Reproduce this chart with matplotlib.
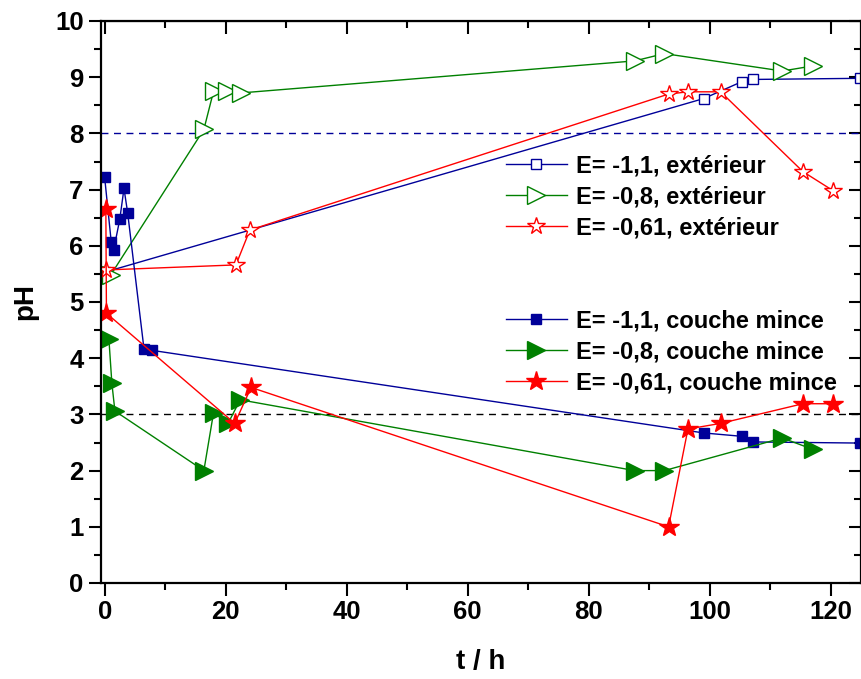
import numpy as np
import matplotlib

matplotlib.use("Agg")
from matplotlib import pyplot as plt
from matplotlib.ticker import MultipleLocator

plt.rcParams['font.family'] = ['Liberation Sans', 'DejaVu Sans']
plt.rcParams['font.weight'] = 'bold'

# exterieur (open markers)
t_ext_11 = [0, 99, 105.3, 107.1, 124.8]
ph_ext_11 = [5.53, 8.62, 8.92, 8.96, 8.98]

t_ext_08 = [1.0, 16.4, 18.0, 20.2, 22.5, 87.6, 92.5, 112, 117]
ph_ext_08 = [5.48, 8.07, 8.75, 8.75, 8.72, 9.29, 9.42, 9.11, 9.2]

t_ext_061 = [0.2, 21.7, 24.0, 93.2, 96.4, 101.8, 115.4, 120.4]
ph_ext_061 = [5.57, 5.66, 6.28, 8.7, 8.74, 8.74, 7.32, 6.98]

# couche mince (filled markers)
t_cm_11 = [0, 1.1, 1.5, 2.5, 3.2, 3.8, 6.5, 7.8, 99, 105.3, 107.1, 124.8]
ph_cm_11 = [7.22, 6.06, 5.93, 6.47, 7.02, 6.59, 4.17, 4.14, 2.67, 2.61, 2.51, 2.49]

t_cm_08 = [0.7, 1.2, 1.7, 16.4, 18.0, 20.4, 22.4, 87.6, 92.5, 112, 117]
ph_cm_08 = [4.35, 3.55, 3.06, 2.0, 3.03, 2.84, 3.26, 2.0, 2.0, 2.58, 2.38]

t_cm_061 = [0.2, 0.3, 21.5, 24.2, 93.2, 96.4, 101.8, 115.4, 120.4]
ph_cm_061 = [6.65, 4.8, 2.84, 3.48, 1.0, 2.74, 2.84, 3.19, 3.19]

ph_ref_high = 8.0
ph_ref_low = 3.0

blue = '#000099'
green = '#008000'
red = '#ff0000'

fig = plt.figure(figsize=(8.62, 6.79), dpi=100)
ax = fig.add_axes([101 / 862, 1 - 583 / 679, 760 / 862, 562 / 679])

ax.axhline(ph_ref_high, color=blue, lw=1.0, ls=(0, (5, 4)))
ax.axhline(ph_ref_low, color='black', lw=1.0, ls=(0, (5, 4)))

l1, = ax.plot(t_ext_11, ph_ext_11, '-', color=blue, lw=1, marker='s', ms=7,
              mfc='white', mec=blue, mew=1, label='E= -1,1, extérieur')
l2, = ax.plot(t_ext_08, ph_ext_08, '-', color=green, lw=1, marker='>', ms=13,
              mfc='white', mec=green, mew=1, label='E= -0,8, extérieur')
l3, = ax.plot(t_ext_061, ph_ext_061, '-', color=red, lw=1, marker='*', ms=13,
              mfc='white', mec=red, mew=1, label='E= -0,61, extérieur')

l4, = ax.plot(t_cm_11, ph_cm_11, '-', color=blue, lw=1, marker='s', ms=7,
              mfc=blue, mec=blue, label='E= -1,1, couche mince')
l5, = ax.plot(t_cm_08, ph_cm_08, '-', color=green, lw=1, marker='>', ms=13,
              mfc=green, mec=green, label='E= -0,8, couche mince')
l6, = ax.plot(t_cm_061, ph_cm_061, '-', color=red, lw=1, marker='*', ms=15,
              mfc=red, mec=red, label='E= -0,61, couche mince')

ax.set_xlim(-0.6, 125)
ax.set_ylim(0, 10)
ax.xaxis.set_major_locator(MultipleLocator(20))
ax.xaxis.set_minor_locator(MultipleLocator(10))
ax.yaxis.set_major_locator(MultipleLocator(1))
ax.yaxis.set_minor_locator(MultipleLocator(0.5))

for s in ax.spines.values():
    s.set_linewidth(1.6)
ax.tick_params(which='both', direction='out', width=1.5, labelsize=18.5,
               top=False, right=False)
ax.tick_params(which='major', length=9)
ax.tick_params(which='minor', length=5)

ax.set_xlabel('t / h', fontsize=20, fontweight='bold', labelpad=18)
ax.set_ylabel('pH', fontsize=20, fontweight='bold', labelpad=12)

# inward mirror ticks on top and right
sec_x = ax.secondary_xaxis('top')
sec_x.xaxis.set_major_locator(MultipleLocator(20))
sec_x.xaxis.set_minor_locator(MultipleLocator(10))
sec_x.tick_params(which='both', direction='in', width=1.5, labeltop=False)
sec_x.tick_params(which='major', length=9)
sec_x.tick_params(which='minor', length=5)
sec_y = ax.secondary_yaxis('right')
sec_y.yaxis.set_major_locator(MultipleLocator(1))
sec_y.yaxis.set_minor_locator(MultipleLocator(0.5))
sec_y.tick_params(which='both', direction='in', width=1.5, labelright=False)
sec_y.tick_params(which='major', length=9)
sec_y.tick_params(which='minor', length=5)

leg_font = {'weight': 'bold', 'size': 17}
leg1 = ax.legend(handles=[l1, l2, l3], loc='upper left',
                 bbox_to_anchor=(0.52, 0.779), frameon=False, prop=leg_font,
                 handlelength=2.6, handletextpad=0.4, labelspacing=0.33,
                 borderaxespad=0)
ax.add_artist(leg1)
ax.legend(handles=[l4, l5, l6], loc='upper left',
          bbox_to_anchor=(0.52, 0.503), frameon=False, prop=leg_font,
          handlelength=2.6, handletextpad=0.4, labelspacing=0.33,
          borderaxespad=0)

fig.savefig('out.png', dpi=100)
